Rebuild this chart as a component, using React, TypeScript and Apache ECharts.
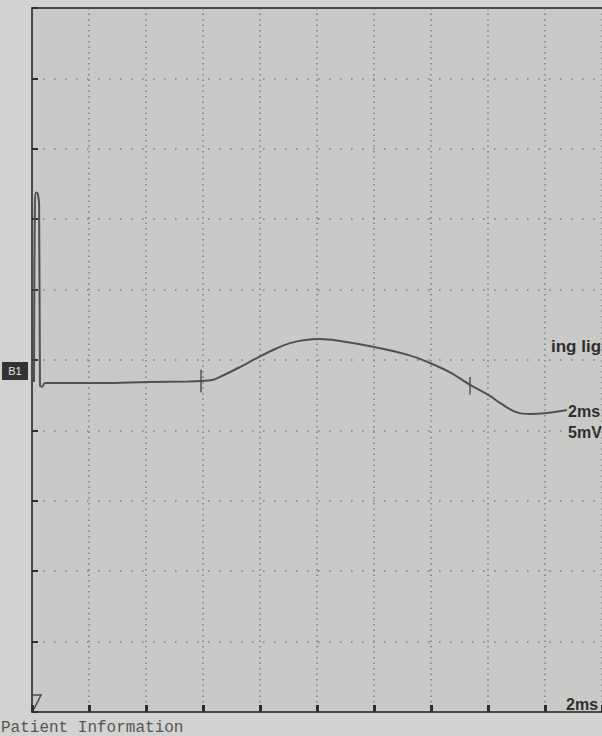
import React, { useEffect, useRef } from "react";
import * as echarts from "echarts";

// time in ms (2 ms / division)
const timeMs = [
  0.07, 0.1, 0.14, 0.2, 0.25, 0.28, 0.35, 0.46, 2.4, 4.1, 5.5, 5.93, 6.32, 6.6, 7.3, 7.89, 8.53,
  9.05, 9.58, 10.1, 10.81, 11.96, 13.16, 13.96, 14.67, 15.37, 16.07, 16.42, 17.02, 17.47, 18.07,
  18.77,
];
// amplitude in mV (5 mV / division)
const amplitudeMv = [
  -1.56, 11.0, 11.9, 11.8, 11.0, -1.77, -1.9, -1.63, -1.63, -1.56, -1.52, -1.49, -1.42, -1.2,
  -0.5, 0.14, 0.78, 1.2, 1.42, 1.49, 1.35, 0.94, 0.38, -0.21, -0.88, -1.77, -2.55, -3.05, -3.72,
  -3.83, -3.76, -3.55,
];
// cursor marks: time, top amplitude, bottom amplitude
const cursorTimes = [5.93, 15.37];
const cursorTops = [-0.7, -1.2];
const cursorBottoms = [-2.3, -2.45];

const xTicks = { min: 0, max: 20, interval: 2 };
const yTicks = { min: -25, max: 25, interval: 5 };

export default function App() {
  const ref = useRef<HTMLDivElement>(null);
  useEffect(() => {
    if (!ref.current) return;
    const chart = echarts.init(ref.current, undefined, { renderer: "svg" });
    const ink = "#4a4a4a";
    const dots = "#7c7c7a";
    chart.setOption({
      animation: false,
      backgroundColor: "#d2d2d0",
      grid: {
        left: 32,
        right: 0,
        top: 8,
        bottom: 24,
        show: true,
        backgroundColor: "#c9c9c7",
        borderWidth: 0,
      },
      xAxis: [
        {
          type: "value",
          ...xTicks,
          axisLine: { show: true, onZero: false, lineStyle: { color: ink, width: 2 } },
          axisTick: { show: true, inside: true, length: 7, lineStyle: { color: "#2e2e2e", width: 3 } },
          axisLabel: { show: false },
          splitLine: { show: true, lineStyle: { color: dots, width: 1.5, type: [1.5, 4] } },
        },
        {
          type: "value",
          position: "top",
          ...xTicks,
          axisLine: { show: true, onZero: false, lineStyle: { color: ink, width: 2 } },
          axisTick: { show: false },
          axisLabel: { show: false },
          splitLine: { show: false },
        },
      ],
      yAxis: {
        type: "value",
        ...yTicks,
        axisLine: { show: true, onZero: false, lineStyle: { color: ink, width: 2 } },
        axisTick: { show: true, inside: true, length: 6, lineStyle: { color: "#2e2e2e", width: 2 } },
        axisLabel: { show: false },
        splitLine: { show: true, lineStyle: { color: dots, width: 1.5, type: [1.5, 9.5] } },
      },
      series: [
        {
          type: "line",
          data: timeMs.map((t, i) => [t, amplitudeMv[i]]),
          smooth: 0.4,
          showSymbol: false,
          lineStyle: { color: "#505050", width: 2 },
          markLine: {
            silent: true,
            symbol: "none",
            label: { show: false },
            lineStyle: { color: "#505050", width: 1.5, type: "solid" },
            data: cursorTimes.map((t, i) => [
              { coord: [t, cursorTops[i]] },
              { coord: [t, cursorBottoms[i]] },
            ]),
          },
        },
      ],
      graphic: [
        {
          type: "rect",
          shape: { x: 2, y: 362, width: 26, height: 18 },
          style: { fill: "#333333" },
        },
        {
          type: "text",
          x: 15,
          y: 371,
          style: {
            text: "B1",
            fill: "#e8e8e8",
            font: "11px 'Liberation Sans', Arial, sans-serif",
            align: "center",
            verticalAlign: "middle",
          },
        },
        {
          type: "polyline",
          shape: { points: [[33, 695], [41, 695], [34, 709]] },
          style: { stroke: ink, lineWidth: 1.5, fill: "none" },
        },
        {
          type: "text",
          x: 551,
          y: 346,
          style: {
            text: "ing lig",
            fill: "#2e2e2e",
            font: "bold 17px 'Liberation Sans', Arial, sans-serif",
            verticalAlign: "middle",
          },
        },
        {
          type: "text",
          x: 568,
          y: 411,
          style: {
            text: "2ms",
            fill: "#2e2e2e",
            font: "bold 16px 'Liberation Sans', Arial, sans-serif",
            verticalAlign: "middle",
          },
        },
        {
          type: "text",
          x: 568,
          y: 432,
          style: {
            text: "5mV",
            fill: "#2e2e2e",
            font: "bold 16px 'Liberation Sans', Arial, sans-serif",
            verticalAlign: "middle",
          },
        },
        {
          type: "text",
          x: 566,
          y: 704,
          style: {
            text: "2ms",
            fill: "#2e2e2e",
            font: "bold 16px 'Liberation Sans', Arial, sans-serif",
            verticalAlign: "middle",
          },
        },
        {
          type: "text",
          x: 1,
          y: 736,
          style: {
            text: "Patient Information",
            fill: "#555555",
            font: "16px 'Liberation Mono', 'DejaVu Sans Mono', monospace",
            verticalAlign: "bottom",
          },
        },
      ],
    });
    return () => chart.dispose();
  }, []);
  return (
    <div
      ref={ref}
      style={{ position: "absolute", left: 0, top: 0, width: 602, height: 736 }}
    />
  );
}
